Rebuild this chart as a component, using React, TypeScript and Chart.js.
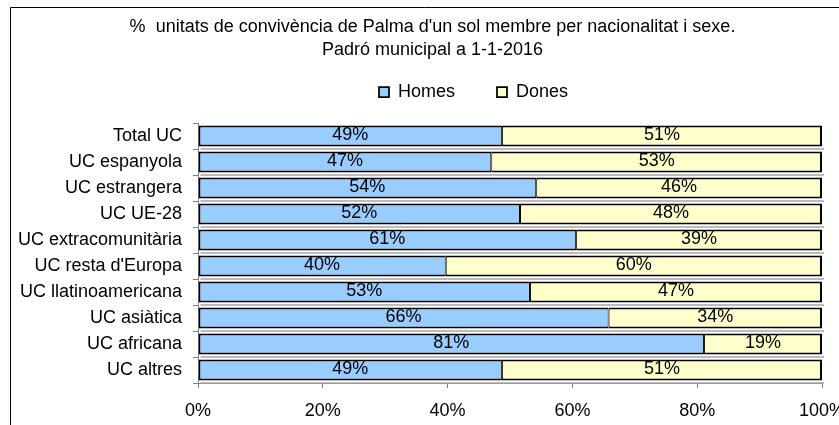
import React, { useEffect, useRef } from 'react';
import { Chart, registerables } from 'chart.js';

Chart.register(...registerables);

const categories = [
  'Total UC',
  'UC espanyola',
  'UC estrangera',
  'UC UE-28',
  'UC extracomunitària',
  "UC resta d'Europa",
  'UC llatinoamericana',
  'UC asiàtica',
  'UC africana',
  'UC altres',
];
const homes = [48.7, 47.0, 54.2, 51.6, 60.6, 39.7, 53.2, 65.8, 81.1, 48.7];
const dones = [51.3, 53.0, 45.8, 48.4, 39.4, 60.3, 46.8, 34.2, 18.9, 51.3];
const xTickValues = [0, 20, 40, 60, 80, 100];
const titleLines = [
  "%  unitats de convivència de Palma d'un sol membre per nacionalitat i sexe.",
  'Padró municipal a 1-1-2016',
];
const seriesNames = ['Homes', 'Dones'];

const FONT = '"Liberation Sans", Arial, sans-serif';
const FS = 18;
const W = 839;
const H = 425;
const PAD_R = 17;
const AXIS_X = 198;
const X_AXIS_H = 37.6;
const TITLE_DX = 21.5;
const LEGEND_DX = 62.5;
const LEGEND_DY = -12;

const framePlugin = {
  id: 'frame',
  beforeDraw(chart: any) {
    const ctx = chart.ctx;
    ctx.save();
    ctx.fillStyle = '#ffffff';
    ctx.fillRect(0, 0, chart.width, chart.height);
    ctx.strokeStyle = '#000000';
    ctx.lineWidth = 1;
    ctx.beginPath();
    ctx.moveTo(10.5, chart.height);
    ctx.lineTo(10.5, 7.5);
    ctx.lineTo(chart.width, 7.5);
    ctx.stroke();
    ctx.restore();
  },
};

const shiftPlugin = {
  id: 'shiftBlocks',
  afterLayout(chart: any) {
    const lg = chart.legend;
    if (lg) {
      lg.left += LEGEND_DX;
      lg.right += LEGEND_DX;
      lg.top += LEGEND_DY;
      lg.bottom += LEGEND_DY;
    }
    const tb = chart.titleBlock;
    if (tb) {
      tb.left += TITLE_DX;
      tb.right += TITLE_DX;
    }
  },
};

// thin grey drop shadow under each bar, as in the original spreadsheet chart
const shadowPlugin = {
  id: 'barShadow',
  beforeDatasetsDraw(chart: any) {
    const ctx = chart.ctx;
    ctx.save();
    ctx.strokeStyle = '#a6a6a6';
    ctx.lineWidth = 1.5;
    chart.data.datasets.forEach((_ds: any, di: number) => {
      const meta = chart.getDatasetMeta(di);
      meta.data.forEach((el: any) => {
        const { x, y, base, height } = el.getProps(['x', 'y', 'base', 'height'], true);
        const yb = y + height / 2 + 2.5;
        ctx.beginPath();
        ctx.moveTo(Math.min(x, base) + 2, yb);
        ctx.lineTo(Math.max(x, base) + 2, yb);
        ctx.stroke();
      });
    });
    ctx.restore();
  },
};

const segLabelPlugin = {
  id: 'segLabels',
  afterDatasetsDraw(chart: any) {
    const ctx = chart.ctx;
    ctx.save();
    ctx.font = `${FS}px ${FONT}`;
    ctx.fillStyle = '#000000';
    ctx.textAlign = 'center';
    ctx.textBaseline = 'middle';
    chart.data.datasets.forEach((ds: any, di: number) => {
      const meta = chart.getDatasetMeta(di);
      meta.data.forEach((el: any, i: number) => {
        const p = el.getCenterPoint();
        ctx.fillText(Math.round(ds.data[i]) + '%', p.x, p.y - 0.5);
      });
    });
    ctx.restore();
  },
};

export default function App() {
  const ref = useRef<HTMLCanvasElement | null>(null);

  useEffect(() => {
    if (!ref.current) return;
    const chart = new Chart(ref.current, {
      type: 'bar',
      data: {
        labels: categories,
        datasets: [
          {
            label: seriesNames[0],
            data: homes,
            backgroundColor: '#99CCFF',
            borderColor: '#000000',
            borderWidth: { top: 2, bottom: 2, left: 2, right: 1 },
            borderSkipped: false,
            barPercentage: 0.8,
            categoryPercentage: 1.0,
          },
          {
            label: seriesNames[1],
            data: dones,
            backgroundColor: '#FFFFCC',
            borderColor: '#000000',
            borderWidth: { top: 2, bottom: 2, left: 1, right: 2 },
            borderSkipped: false,
            barPercentage: 0.8,
            categoryPercentage: 1.0,
          },
        ],
      },
      options: {
        indexAxis: 'y',
        responsive: false,
        animation: false,
        layout: { padding: { left: 0, right: PAD_R, top: 0, bottom: 4.4 } },
        plugins: {
          title: {
            display: true,
            text: titleLines,
            color: '#000000',
            font: { family: FONT, size: FS, weight: 'normal', lineHeight: 23 / FS },
            padding: { top: 15.5, bottom: -8.5 },
          },
          legend: {
            display: true,
            position: 'top',
            labels: {
              color: '#000000',
              font: { family: FONT, size: FS },
              boxWidth: 10,
              boxHeight: 10,
              padding: 42,
            },
          },
          tooltip: { enabled: false },
        },
        scales: {
          x: {
            stacked: true,
            min: 0,
            max: 100,
            afterBuildTicks(scale: any) {
              scale.ticks = xTickValues.map((v) => ({ value: v }));
            },
            afterFit(scale: any) {
              scale.height = X_AXIS_H;
              scale.paddingLeft = 0;
              scale.paddingRight = 0;
            },
            ticks: {
              color: '#000000',
              font: { family: FONT, size: FS },
              padding: 12,
              maxRotation: 0,
              autoSkip: false,
              callback: (v: any) => v + '%',
            },
            grid: {
              display: true,
              drawOnChartArea: false,
              drawTicks: true,
              tickLength: 5,
              color: '#808080',
            },
            border: { display: true, color: '#808080', width: 1 },
          },
          y: {
            stacked: true,
            afterFit(scale: any) {
              scale.width = AXIS_X;
              scale.paddingTop = 0;
              scale.paddingBottom = 0;
            },
            ticks: {
              color: '#000000',
              font: { family: FONT, size: FS },
              padding: 11,
              autoSkip: false,
            },
            grid: {
              display: true,
              drawOnChartArea: false,
              drawTicks: true,
              tickLength: 5,
              color: '#808080',
              offset: true,
            },
            border: { display: true, color: '#808080', width: 1 },
          },
        },
      },
      plugins: [framePlugin, shiftPlugin, shadowPlugin, segLabelPlugin],
    });
    return () => chart.destroy();
  }, []);

  return (
    <div style={{ position: 'absolute', left: 0, top: 0, width: W, height: H }}>
      <canvas ref={ref} width={W} height={H} style={{ display: 'block' }} />
    </div>
  );
}
